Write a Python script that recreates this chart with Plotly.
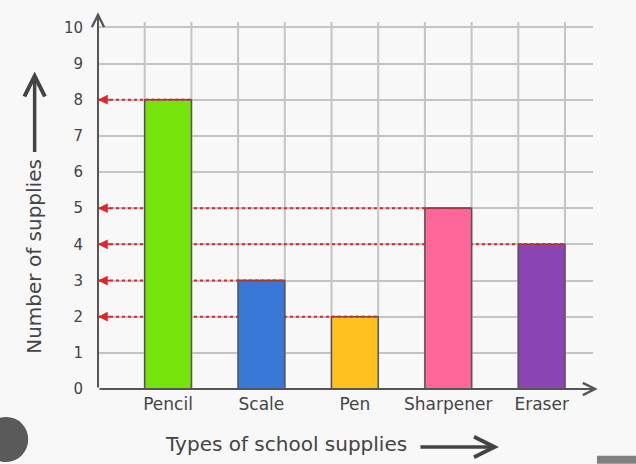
import plotly.graph_objects as go

# school supplies counted in the chart
categories = ["Pencil", "Scale", "Pen", "Sharpener", "Eraser"]
counts = [8, 3, 2, 5, 4]
bar_colors = ["#74E40A", "#3A78D8", "#FEC11E", "#FF6699", "#8B44B4"]
y_ticks = list(range(0, 11))

# each bar sits in its own slot of two grid cells
x_pos = [2 * i + 1.5 for i in range(len(categories))]

font_name = "DejaVu Sans"
text_col = "#444444"

fig = go.Figure(go.Bar(
    x=x_pos, y=counts, width=1,
    marker=dict(color=bar_colors, line=dict(color="#555555", width=1.5)),
    hoverinfo="skip",
))

red = "#E5232B"
for xp, c in zip(x_pos, counts):
    # dotted guide from the axis to the bar (drawn under the bars)
    fig.add_shape(type="line", x0=0, x1=xp + 0.5, y0=c, y1=c, layer="between",
                  line=dict(color=red, width=2, dash="dot"))
    # same guide along the top of the bar
    fig.add_shape(type="line", x0=xp - 0.5, x1=xp + 0.5, y0=c, y1=c, layer="above",
                  line=dict(color=red, width=2, dash="dot"))
    # red arrow head at the y axis
    fig.add_annotation(x=0, y=c, ax=0.3, ay=c, xref="x", yref="y", axref="x", ayref="y",
                       text="", showarrow=True, arrowhead=2, arrowsize=1.3,
                       arrowwidth=1.5, arrowcolor=red)

# axis lines with open arrow heads
axis_col = "#555555"
fig.add_annotation(x=10.7, y=0, ax=0, ay=0, xref="x", yref="y", axref="x", ayref="y",
                   text="", showarrow=True, arrowhead=5, arrowsize=1.2,
                   arrowwidth=2, arrowcolor=axis_col)
fig.add_annotation(x=0, y=10.42, ax=0, ay=0, xref="x", yref="y", axref="x", ayref="y",
                   text="", showarrow=True, arrowhead=5, arrowsize=1.2,
                   arrowwidth=2, arrowcolor=axis_col)

# axis titles with their arrows
fig.add_annotation(x=-0.128, y=0.362, xref="paper", yref="paper", text="Number of supplies",
                   textangle=-90, showarrow=False, xanchor="center", yanchor="middle",
                   font=dict(family=font_name, size=20, color=text_col))
fig.add_annotation(x=-0.128, y=0.865, xref="paper", yref="paper", ax=0, ay=82,
                   text="", showarrow=True, arrowhead=5, arrowsize=1.15,
                   arrowwidth=3.5, arrowcolor=text_col)
fig.add_annotation(x=0.38, y=-0.15, xref="paper", yref="paper", text="Types of school supplies",
                   showarrow=False, xanchor="center", yanchor="middle",
                   font=dict(family=font_name, size=20, color=text_col))
fig.add_annotation(x=0.81, y=-0.158, xref="paper", yref="paper", ax=-80, ay=0,
                   text="", showarrow=True, arrowhead=5, arrowsize=1.15,
                   arrowwidth=3.5, arrowcolor=text_col)

# screenshot artefacts in the corners
fig.add_shape(type="circle", xref="paper", yref="paper",
              x0=-0.23, x1=-0.141, y0=-0.199, y1=-0.076,
              fillcolor="#5A5A5A", line=dict(width=0))
fig.add_shape(type="rect", xref="paper", yref="paper",
              x0=1.008, x1=1.09, y0=-0.204, y1=-0.182,
              fillcolor="#808080", line=dict(width=0))

fig.update_xaxes(range=[0, 10.6], tickvals=x_pos, ticktext=categories,
                 showgrid=False, zeroline=False, showline=False, ticks="",
                 ticklabelstandoff=3,
                 tickfont=dict(family=font_name, size=17, color=text_col))
for g in range(1, 11):
    fig.add_shape(type="line", x0=g, x1=g, y0=0, y1=10.15, layer="below",
                  line=dict(color="#C4C4C4", width=2))
fig.update_yaxes(range=[0, 10.15], tickvals=y_ticks, showgrid=True,
                 gridcolor="#C4C4C4", gridwidth=2, zeroline=False,
                 showline=False, ticks="", ticklabelstandoff=14,
                 tickfont=dict(family=font_name, size=15, color=text_col))

fig.update_layout(
    width=636, height=464,
    margin=dict(l=98, r=43, t=22, b=75),
    paper_bgcolor="#F8F8F8", plot_bgcolor="#F8F8F8",
    showlegend=False,
)

# drop the browser's default page margin so the figure starts at the corner
fig.write_html("out.html", config={"displayModeBar": False},
               post_script="document.body.style.margin='0';")
